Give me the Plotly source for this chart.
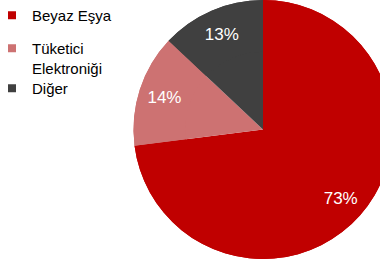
import plotly.graph_objects as go

categories = ["Beyaz Eşya", "Tüketici<br>Elektroniği", "Diğer"]
values = [73, 14, 13]
colors = ["#C00000", "#CD7272", "#404040"]

W, H = 400, 259
FONT = "Liberation Sans, Arial, sans-serif"
dom = dict(x=[133 / W, 393 / W], y=[0, 1])

fig = go.Figure()
# full pie underneath (no text)
fig.add_trace(go.Pie(
    labels=categories, values=values, sort=False,
    direction="clockwise", rotation=0,
    marker=dict(colors=colors, line=dict(width=0)),
    textinfo="none", domain=dom, hoverinfo="skip", showlegend=False,
))
# ring on top carrying the percentage labels near the outer part
fig.add_trace(go.Pie(
    labels=categories, values=values, sort=False,
    direction="clockwise", rotation=0, hole=0.6,
    marker=dict(colors=colors, line=dict(width=0)),
    texttemplate="%{percent:.0%}", textposition="inside",
    insidetextorientation="horizontal",
    textfont=dict(family=FONT, size=17, color="white"),
    domain=dom, hoverinfo="skip", showlegend=False,
))

# legend entries
legend_names = ["legend", "legend2", "legend3"]
legend_tops = [-1, 32, 72]
for name, cat, col, top in zip(legend_names, categories, colors, legend_tops):
    fig.add_trace(go.Scatter(
        x=[None], y=[None], mode="markers", name=cat,
        marker=dict(symbol="square", size=8, color=col),
        legend=name, showlegend=True, hoverinfo="skip",
    ))

legend_common = dict(
    xanchor="left", yanchor="top", x=-8 / W,
    font=dict(family=FONT, size=15, color="black"),
    valign="top", bgcolor="rgba(0,0,0,0)", borderwidth=0,
)
fig.update_layout(
    width=W, height=H,
    margin=dict(l=0, r=0, t=0, b=0, autoexpand=False),
    paper_bgcolor="white", plot_bgcolor="rgba(0,0,0,0)",
    xaxis=dict(visible=False), yaxis=dict(visible=False),
    legend=dict(y=1 - legend_tops[0] / H, **legend_common),
    legend2=dict(y=1 - legend_tops[1] / H, **legend_common),
    legend3=dict(y=1 - legend_tops[2] / H, **legend_common),
)
fig.write_html(
    "out.html",
    config={"displayModeBar": False},
    post_script="document.body.style.margin='0';document.body.style.overflow='hidden';",
)
